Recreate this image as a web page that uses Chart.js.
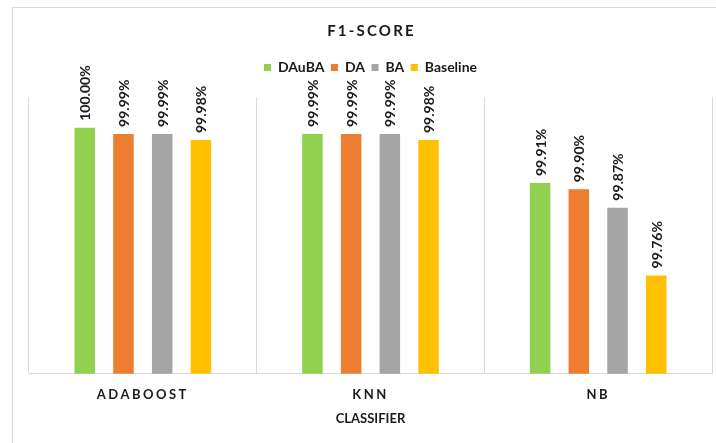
<!DOCTYPE html>
<html>
<head>
<meta charset="utf-8">
<title>F1-SCORE</title>
<script src="https://cdn.jsdelivr.net/npm/chart.js@4/dist/chart.umd.min.js"></script>
<style>
  html, body { margin: 0; padding: 0; background: #fff; }
  #frame {
    position: absolute; left: 12px; top: 7px;
    width: 800px; height: 800px;
    border: 1px solid #d9d9d9;
  }
  #chart { position: absolute; left: 0; top: 0; }
</style>
</head>
<body>
<div id="frame"></div>
<canvas id="chart" width="716" height="443"></canvas>
<script>
// classifiers on the x axis
const classifiers = ['ADABOOST', 'KNN', 'NB'];

// F1 score (%) per method
const dauba = [100.00, 99.99, 99.91];
const da = [99.99, 99.99, 99.90];
const ba = [99.99, 99.99, 99.87];
const baseline = [99.98, 99.98, 99.76];

const seriesNames = ['DAuBA', 'DA', 'BA', 'Baseline'];
const seriesColors = ['#92d050', '#ed7d31', '#a5a5a5', '#ffc000'];

const FONT = 'Lato, "Open Sans", sans-serif';
const INK = '#1a1a1a';

// extra room under the legend
const legendGap = {
  id: 'legendGap',
  beforeInit(chart) {
    const fit = chart.legend.fit;
    chart.legend.fit = function () {
      fit.call(this);
      this.height += 12.5;
    };
  }
};

// vertical value labels above bars, spaced category ticks, chart title
const barText = {
  id: 'barText',
  afterDatasetsDraw(chart) {
    const ctx = chart.ctx;
    ctx.save();
    ctx.font = 'bold 14px ' + FONT;
    ctx.fillStyle = INK;
    ctx.textAlign = 'left';
    ctx.textBaseline = 'middle';
    chart.data.datasets.forEach((ds, i) => {
      chart.getDatasetMeta(i).data.forEach((bar, j) => {
        ctx.save();
        ctx.translate(bar.x + 1, bar.y - 7);
        ctx.rotate(-Math.PI / 2);
        ctx.fillText(ds.data[j].toFixed(2) + '%', 0, 0);
        ctx.restore();
      });
    });
    ctx.restore();
    // x tick labels are drawn after this (ticks.z = 1)
    ctx.letterSpacing = '2.5px';
  },
  afterDraw(chart) {
    const ctx = chart.ctx;
    const area = chart.chartArea;
    ctx.save();
    ctx.letterSpacing = '2.2px';
    ctx.font = 'bold 15px ' + FONT;
    ctx.fillStyle = INK;
    ctx.textAlign = 'center';
    ctx.textBaseline = 'middle';
    ctx.fillText('F1-SCORE', (area.left + area.right) / 2 + 1, 31);
    ctx.restore();
    ctx.letterSpacing = '0px';
  }
};

const datasets = [dauba, da, ba, baseline].map((values, i) => ({
  label: seriesNames[i],
  data: values,
  backgroundColor: seriesColors[i],
  borderWidth: 0,
  categoryPercentage: 0.68,
  barPercentage: 0.53
}));

new Chart(document.getElementById('chart'), {
  type: 'bar',
  data: { labels: classifiers, datasets: datasets },
  plugins: [legendGap, barText],
  options: {
    responsive: false,
    animation: false,
    devicePixelRatio: 1,
    layout: { padding: { left: 29, right: 4, top: 54, bottom: 12 } },
    plugins: {
      title: { display: false },
      tooltip: { enabled: false },
      legend: {
        position: 'top',
        labels: {
          boxWidth: 7,
          boxHeight: 7,
          padding: 6.5,
          color: INK,
          font: { family: FONT, size: 14, weight: 'bold' }
        }
      }
    },
    scales: {
      x: {
        grid: { color: '#d9d9d9', lineWidth: 1, drawTicks: false, offset: true },
        border: { color: '#d9d9d9' },
        ticks: {
          z: 1,
          padding: 13,
          maxRotation: 0,
          color: INK,
          font: { family: FONT, size: 13, weight: 'bold' }
        },
        title: {
          display: true,
          text: 'CLASSIFIER',
          color: INK,
          padding: { top: -4, bottom: 4 },
          font: { family: FONT, size: 13, weight: 'bold' }
        }
      },
      y: {
        display: false,
        min: 99.6,
        max: 100.05
      }
    }
  }
});
</script>
</body>
</html>
